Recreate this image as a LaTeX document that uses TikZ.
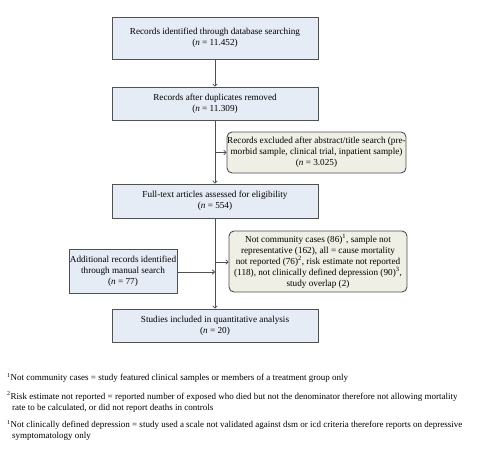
\documentclass[tikz,border=0pt]{standalone}
\usepackage{fontspec}
\setmainfont{Liberation Serif}
\usetikzlibrary{arrows.meta}
\definecolor{bluefill}{HTML}{E6ECF6}
\definecolor{beigefill}{HTML}{EFEFE5}
\definecolor{edge}{HTML}{505050}
\begin{document}
\begin{tikzpicture}[x=1pt,y=-1pt,
  txt/.style={font=\fontsize{9.2}{11}\selectfont, align=center, inner sep=0pt},
  mainbox/.style={txt, draw=edge, line width=0.9pt, fill=bluefill, minimum width=206pt},
  sidebox/.style={txt, draw=edge, line width=0.9pt, fill=beigefill, rounded corners=5pt},
  conn/.style={draw=edge, line width=0.8pt},
  arr/.style={conn, -{To[length=3pt,width=5pt]}},
  foot/.style={font=\fontsize{9}{11}\selectfont, align=left, inner sep=0pt, anchor=north west}
]
\useasboundingbox (0,0) rectangle (500,460);
\node[mainbox, minimum height=42pt] (b1) at (215,38) {Records identified through database searching\\(\textit{n} = 11.452)};
\node[mainbox, minimum height=33pt] (b2) at (215,103.5) {Records after duplicates removed\\(\textit{n} = 11.309)};
\node[sidebox, minimum width=179pt, minimum height=41pt] (b3) at (316.5,152.5) {Records excluded after abstract/title search (pre-\\morbid sample, clinical trial, inpatient sample)\\(\textit{n} = 3.025)};
\node[mainbox, minimum height=34pt] (b4) at (215,201) {Full-text articles assessed for eligibility\\(\textit{n} = 554)};
\node[sidebox, minimum width=178pt, minimum height=61pt] (b5) at (318,261.5) {Not community cases (86)\textsuperscript{1}, sample not\\representative (162), all = cause mortality\\not reported (76)\textsuperscript{2}, risk estimate not reported\\(118), not clinically defined depression (90)\textsuperscript{3},\\study overlap (2)};
\node[mainbox, minimum width=108pt, minimum height=44pt] (b6) at (123,271) {Additional records identified\\through manual search\\(\textit{n} = 77)};
\node[mainbox, minimum height=33pt] (b7) at (215,325.5) {Studies included in quantitative analysis\\(\textit{n} = 20)};
\coordinate (j1) at (215,152.5);
\coordinate (j2) at (215,262);
\coordinate (j3) at (215,272);
\draw[arr] (b1) -- (b2);
\draw[arr] (b2) -- (b4);
\draw[arr] (j1) -- (b3.west |- j1);
\draw[arr] (b4) -- (b7);
\draw[arr] (j2) -- (b5.west |- j2);
\draw[arr] (b6.east |- j3) -- (j3);
\node[foot] (f1) at (7,373) {\textsuperscript{1}Not community cases = study featured clinical samples or members of a treatment group only};
\node[foot] (f2) at (7,391) {\textsuperscript{2}Risk estimate not reported = reported number of exposed who died but not the denominator therefore not allowing mortality\\\hspace*{5pt}rate to be calculated, or did not report deaths in controls};
\node[foot] (f3) at (7,420) {\textsuperscript{1}Not clinically defined depression = study used a scale not validated against dsm or icd criteria therefore reports on depressive\\\hspace*{5pt}symptomatology only};
\end{tikzpicture}
\end{document}
